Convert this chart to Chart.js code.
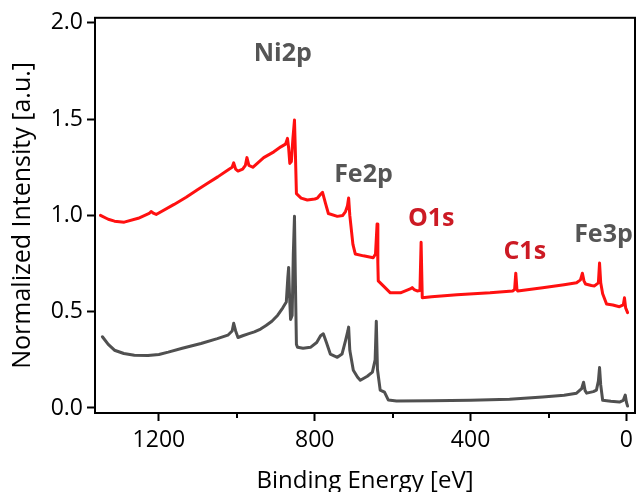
<!DOCTYPE html>
<html>
<head>
<meta charset="utf-8">
<script src="https://cdn.jsdelivr.net/npm/chart.js@4.4.0/dist/chart.umd.min.js"></script>
<style>
  html, body { margin: 0; padding: 0; background: #ffffff; }
  #wrap { width: 637px; height: 492px; position: relative; }
</style>
</head>
<body>
<div id="wrap"><canvas id="c" width="637" height="492"></canvas></div>
<script>
// ---- Data (binding energy in eV, normalized intensity) ----
const grayEnergy = [1345,1330,1314,1290,1263,1228,1200,1176,1140,1092,1050,1023,1012,1008,1003,997,985,969,955,939,925,910,895,882,873,869,867,865,862,858,855,852,850,847,844,830,811,795,785,778,770,760,742,730,721,715,713,710,701,690,683,665,652,645,642,639,632,621,611,590,500,400,300,215,160,128,115,110,106,102,85,77,72,69,66,61,40,18,8,3,0,-3];
const grayIntensity = [0.37,0.33,0.30,0.283,0.274,0.272,0.278,0.29,0.31,0.335,0.36,0.378,0.40,0.44,0.40,0.366,0.375,0.386,0.395,0.41,0.428,0.45,0.482,0.52,0.55,0.68,0.73,0.60,0.46,0.48,0.80,0.995,0.70,0.33,0.315,0.31,0.315,0.34,0.375,0.385,0.34,0.28,0.263,0.28,0.35,0.40,0.42,0.30,0.196,0.16,0.144,0.165,0.186,0.25,0.45,0.20,0.093,0.082,0.041,0.036,0.038,0.04,0.046,0.057,0.066,0.077,0.10,0.134,0.09,0.077,0.085,0.093,0.14,0.21,0.12,0.04,0.035,0.031,0.04,0.067,0.03,0.01];

const redEnergy = [1350,1330,1314,1289,1253,1225,1220,1213,1207,1161,1130,1100,1075,1049,1020,1012,1008,1003,997,985,978,974,969,959,931,905,887,875,870,867,864,860,856,852,850,847,835,819,800,793,785,780,772,765,742,728,721,716,713,710,702,696,675,650,644,640,638,637,624,606,580,555,550,545,537,530,527,524,500,435,350,292,287,284,281,279,215,160,128,118,113,109,105,90,82,72,69,66,61,51,35,18,8,5,2,-3];
const redIntensity = [1.0,0.98,0.97,0.965,0.985,1.01,1.02,1.01,1.005,1.057,1.094,1.134,1.167,1.20,1.24,1.25,1.273,1.24,1.23,1.24,1.26,1.30,1.26,1.25,1.30,1.33,1.356,1.37,1.40,1.35,1.27,1.28,1.40,1.495,1.35,1.113,1.09,1.08,1.085,1.09,1.11,1.12,1.06,1.01,0.995,1.00,1.02,1.05,1.09,1.00,0.85,0.80,0.79,0.78,0.80,0.955,0.75,0.66,0.634,0.598,0.598,0.618,0.625,0.615,0.608,0.61,0.86,0.572,0.578,0.588,0.598,0.608,0.615,0.70,0.615,0.608,0.624,0.64,0.65,0.665,0.70,0.66,0.644,0.636,0.634,0.65,0.753,0.65,0.593,0.54,0.535,0.526,0.535,0.572,0.52,0.495];

const xTickValues = [0,200,400,600,800,1000,1200];
const xLabeledTicks = [0,400,800,1200];
const yTickValues = [0,0.5,1.0,1.5,2.0];

const peakLabels = ['Ni2p','Fe2p','O1s','C1s','Fe3p'];
const peakLabelEnergy = [882,675,501,261,59];
const peakLabelIntensity = [1.84,1.21,0.98,0.81,0.90];
const peakLabelSeries = ['gray','gray','red','red','gray'];

const FONT = "'Open Sans', 'DejaVu Sans', sans-serif";
const COLORS = { red: '#ff1010', gray: '#505050', redText: '#cc1a24', grayText: '#555555' };

function toPoints(xs, ys) { return xs.map((x, i) => ({ x: x, y: ys[i] })); }

const frame = {
  id: 'frame',
  afterDraw(chart) {
    const { ctx, chartArea: a, scales } = chart;
    ctx.save();
    ctx.strokeStyle = '#000';
    ctx.lineWidth = 2;
    ctx.strokeRect(a.left, a.top, a.right - a.left, a.bottom - a.top);
    // minor x ticks (shorter)
    ctx.beginPath();
    xTickValues.filter(v => !xLabeledTicks.includes(v)).forEach(v => {
      const px = Math.round(scales.x.getPixelForValue(v));
      ctx.moveTo(px, a.bottom);
      ctx.lineTo(px, a.bottom + 5);
    });
    ctx.stroke();
    // peak labels
    ctx.font = "bold 25px " + FONT;
    ctx.textAlign = 'center';
    ctx.textBaseline = 'middle';
    peakLabels.forEach((t, i) => {
      ctx.fillStyle = peakLabelSeries[i] === 'red' ? COLORS.redText : COLORS.grayText;
      ctx.fillText(t, scales.x.getPixelForValue(peakLabelEnergy[i]), scales.y.getPixelForValue(peakLabelIntensity[i]));
    });
    ctx.restore();
  }
};

new Chart(document.getElementById('c'), {
  type: 'line',
  data: {
    datasets: [
      { label: 'gray', data: toPoints(grayEnergy, grayIntensity), borderColor: COLORS.gray, borderWidth: 3, pointRadius: 0, tension: 0, borderJoinStyle: 'round', borderCapStyle: 'round' },
      { label: 'red', data: toPoints(redEnergy, redIntensity), borderColor: COLORS.red, borderWidth: 3, pointRadius: 0, tension: 0, borderJoinStyle: 'round', borderCapStyle: 'round' }
    ]
  },
  options: {
    responsive: false,
    animation: false,
    events: [],
    layout: { padding: { top: 15, right: 2, left: 0, bottom: 0 } },
    plugins: { legend: { display: false }, tooltip: { enabled: false } },
    scales: {
      x: {
        type: 'linear',
        reverse: true,
        min: -22,
        max: 1364,
        afterBuildTicks: s => { s.ticks = xTickValues.map(v => ({ value: v })); },
        afterFit: s => { s.height = 79; },
        ticks: {
          autoSkip: false,
          maxRotation: 0,
          padding: 6,
          color: '#000',
          font: { family: FONT, size: 23 },
          callback: v => xLabeledTicks.includes(v) ? String(v) : ''
        },
        grid: {
          drawOnChartArea: false,
          tickLength: 8,
          tickWidth: 2,
          tickColor: c => (c.tick && xLabeledTicks.includes(c.tick.value)) ? '#000' : 'rgba(0,0,0,0)'
        },
        border: { display: false },
        title: { display: true, text: 'Binding Energy [eV]', color: '#000', font: { family: FONT, size: 24 }, padding: { top: 0, bottom: -4 } }
      },
      y: {
        min: -0.026,
        max: 2.026,
        afterBuildTicks: s => { s.ticks = yTickValues.map(v => ({ value: v })); },
        afterFit: s => { s.width = 95; },
        ticks: {
          padding: 4,
          color: '#000',
          font: { family: FONT, size: 23 },
          callback: v => Number(v).toFixed(1)
        },
        grid: { drawOnChartArea: false, tickLength: 8, tickWidth: 2, tickColor: '#000' },
        border: { display: false },
        title: { display: true, text: 'Normalized Intensity [a.u.]', color: '#000', font: { family: FONT, size: 25 }, padding: { top: 8, bottom: 0 } }
      }
    }
  },
  plugins: [frame]
});
</script>
</body>
</html>
